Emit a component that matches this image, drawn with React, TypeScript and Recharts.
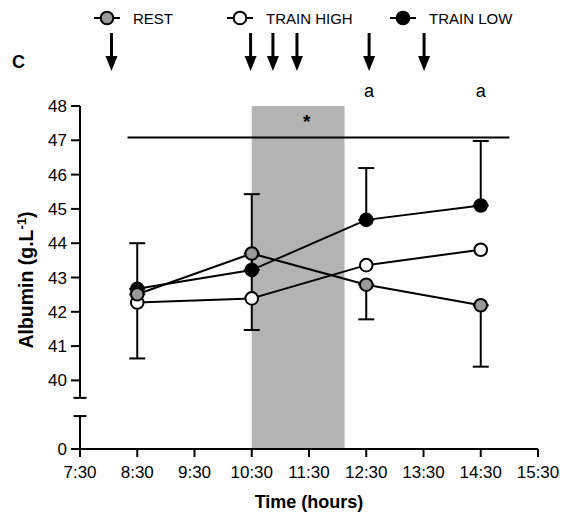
import {
  LineChart, Line, XAxis, YAxis, ErrorBar,
  ReferenceArea, ReferenceLine, ReferenceDot,
} from "recharts";

const FONT = '"Liberation Sans", Arial, sans-serif';

// sampling times (hours, 8.5 = 8:30)
const times = [8.5, 10.5, 12.5, 14.5];
const rest = [42.51, 43.7, 42.79, 42.19];
const trainHigh = [42.27, 42.39, 43.36, 43.81];
const trainLow = [42.67, 43.22, 44.68, 45.1];
const restErrDown = [1.87, 2.23, 1.01, 1.79];
const lowErrUp = [1.33, 2.21, 1.51, 1.88];

const xTicks = [7.5, 8.5, 9.5, 10.5, 11.5, 12.5, 13.5, 14.5, 15.5];
const yTicks = [38, 40, 41, 42, 43, 44, 45, 46, 47, 48];

// annotations
const arrowTimes = [8.05, 10.48, 10.87, 11.29, 12.55, 13.51];
const letterTimes = [12.55, 14.5];
const band = [10.5, 12.12];
const sigLine = { from: 8.33, to: 15.0, y: 47.08 };
const starTime = 11.46;
const breakLow = 38.96;
const breakHigh = 39.49;

const data = times.map((t, i) => ({
  t,
  rest: rest[i],
  high: trainHigh[i],
  low: trainLow[i],
  restErr: [restErrDown[i], 0],
  lowErr: [0, lowErrUp[i]],
}));

const legendItems = [
  { label: "REST", fill: "#9a9a9a", x: 107 },
  { label: "TRAIN HIGH", fill: "#fff", x: 240 },
  { label: "TRAIN LOW", fill: "#000", x: 403 },
];

const Arrow = (p: any) => {
  const { cx, cy } = p;
  return (
    <g>
      <line x1={cx} x2={cx} y1={cy - 73} y2={cy - 50} stroke="#000" strokeWidth={3} />
      <polygon points={`${cx - 6},${cy - 50} ${cx + 6},${cy - 50} ${cx},${cy - 35}`} fill="#000" />
    </g>
  );
};

const Letter = (p: any) => (
  <text x={p.cx} y={p.cy - 9} textAnchor="middle" fontFamily={FONT} fontSize={18} fill="#000">a</text>
);

const Star = (p: any) => (
  <text x={p.cx} y={p.cy + 22} textAnchor="middle" fontFamily={FONT} fontSize={19} fontWeight="bold" fill="#000">*</text>
);

const dotStyle = (fill: string) => ({ r: 6.3, fill, stroke: "#000", strokeWidth: 2 });
const tickStyle = { fontFamily: FONT, fontSize: 17, fill: "#000" };

export default function App() {
  return (
    <div style={{ position: "absolute", left: 0, top: 0, width: 563, height: 520, background: "#fff" }}>
      <LineChart width={563} height={520} data={data} margin={{ top: 106, right: 25, bottom: 0, left: 0 }}>
        <ReferenceArea x1={band[0]} x2={band[1]} y1={38} y2={48} fill="#b3b3b3" fillOpacity={1} stroke="none" />
        <XAxis
          type="number" dataKey="t" domain={[7.5, 15.5]} ticks={xTicks} interval={0} height={71}
          axisLine={{ stroke: "#000", strokeWidth: 2 }} tickLine={{ stroke: "#000", strokeWidth: 2 }}
          tickSize={8} tickMargin={9} tick={tickStyle}
          tickFormatter={(v: number) => `${Math.floor(v)}:30`}
        />
        <YAxis
          type="number" domain={[38, 48]} ticks={yTicks} interval={0} width={80} allowDataOverflow
          axisLine={false} tickLine={{ stroke: "#000", strokeWidth: 2 }}
          tickSize={9} tickMargin={4} tick={tickStyle}
          tickFormatter={(v: number) => (v === 38 ? "0" : String(v))}
        />
        {/* broken y axis */}
        <ReferenceLine segment={[{ x: 7.5, y: breakHigh }, { x: 7.5, y: 48 }]} stroke="#000" strokeWidth={2} ifOverflow="visible" />
        <ReferenceLine segment={[{ x: 7.5, y: 38 }, { x: 7.5, y: breakLow }]} stroke="#000" strokeWidth={2} ifOverflow="visible" />
        <ReferenceLine segment={[{ x: 7.386, y: breakHigh }, { x: 7.614, y: breakHigh }]} stroke="#000" strokeWidth={2} ifOverflow="visible" />
        <ReferenceLine segment={[{ x: 7.386, y: breakLow }, { x: 7.614, y: breakLow }]} stroke="#000" strokeWidth={2} ifOverflow="visible" />
        <ReferenceLine segment={[{ x: sigLine.from, y: sigLine.y }, { x: sigLine.to, y: sigLine.y }]} stroke="#000" strokeWidth={2} ifOverflow="visible" />

        <Line dataKey="high" type="linear" stroke="#000" strokeWidth={2} dot={dotStyle("#fff")} activeDot={false} isAnimationActive={false} />
        <Line dataKey="low" type="linear" stroke="#000" strokeWidth={2} dot={dotStyle("#000")} activeDot={false} isAnimationActive={false}>
          <ErrorBar dataKey="lowErr" direction="y" width={8} stroke="#000" strokeWidth={2} />
        </Line>
        <Line dataKey="rest" type="linear" stroke="#000" strokeWidth={2} dot={dotStyle("#9a9a9a")} activeDot={false} isAnimationActive={false}>
          <ErrorBar dataKey="restErr" direction="y" width={8} stroke="#000" strokeWidth={2} />
        </Line>

        <ReferenceDot x={starTime} y={48} r={0} shape={Star} ifOverflow="visible" />
        {arrowTimes.map((t) => (
          <ReferenceDot key={"ar" + t} x={t} y={48} r={0} shape={Arrow} ifOverflow="visible" />
        ))}
        {letterTimes.map((t) => (
          <ReferenceDot key={"a" + t} x={t} y={48} r={0} shape={Letter} ifOverflow="visible" />
        ))}

        <g>
          {legendItems.map((it) => (
            <g key={it.label}>
              <line x1={it.x - 13} x2={it.x + 13} y1={18} y2={18} stroke="#000" strokeWidth={2} />
              <circle cx={it.x} cy={18} r={6.3} fill={it.fill} stroke="#000" strokeWidth={2} />
              <text x={it.x + 26} y={23.5} fontFamily={FONT} fontSize={15} fill="#000">{it.label}</text>
            </g>
          ))}
          <text x={12} y={68} fontFamily={FONT} fontSize={18} fontWeight="bold" fill="#000">C</text>
          <text x={309} y={508} textAnchor="middle" fontFamily={FONT} fontSize={18} fontWeight="bold" fill="#000">Time (hours)</text>
          <text transform="translate(33,280) rotate(-90)" textAnchor="middle" fontFamily={FONT} fontSize={19.5} fontWeight="bold" fill="#000">
            Albumin (g.L<tspan fontSize={13} dy={-7}>-1</tspan><tspan dy={7}>)</tspan>
          </text>
        </g>
      </LineChart>
    </div>
  );
}
